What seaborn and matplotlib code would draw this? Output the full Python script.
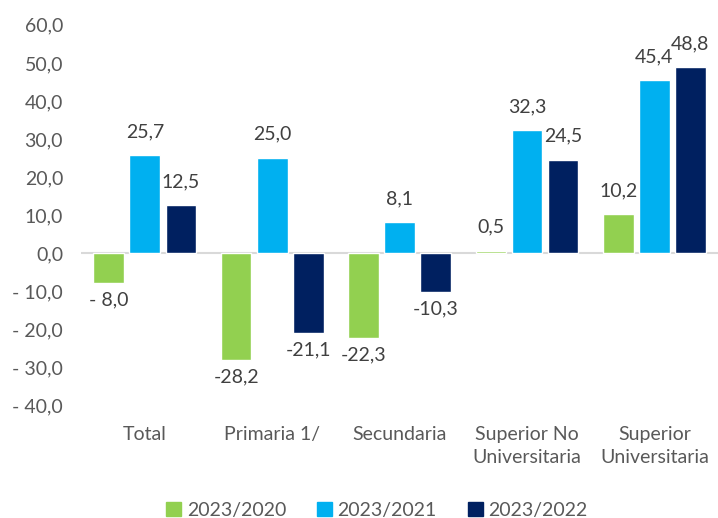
import pandas as pd
import matplotlib
matplotlib.use("Agg")
import matplotlib.pyplot as plt
import seaborn as sns

# --- Datos ---
niveles = ["Total", "Primaria 1/", "Secundaria", "Superior No\nUniversitaria", "Superior\nUniversitaria"]
periodos = ["2023/2020", "2023/2021", "2023/2022"]
var_2020 = [-8.0, -28.2, -22.3, 0.5, 10.2]
var_2021 = [25.7, 25.0, 8.1, 32.3, 45.4]
var_2022 = [12.5, -21.1, -10.3, 24.5, 48.8]
colores = ["#92D050", "#00B0F0", "#002060"]
ticks_y = [-40, -30, -20, -10, 0, 10, 20, 30, 40, 50, 60]

df = pd.DataFrame({
    "nivel": niveles * 3,
    "periodo": [p for p in periodos for _ in niveles],
    "valor": var_2020 + var_2021 + var_2022,
})

sns.set_style("white")
plt.rcParams["font.family"] = ["Lato", "DejaVu Sans"]

gris_eje = "#595959"
gris_txt = "#404040"
fs = 14

fig = plt.figure(figsize=(7.18, 5.18), dpi=100)
ax = fig.add_axes([0.113, 0.218, 0.887, 0.734])

sns.barplot(data=df, x="nivel", y="valor", hue="periodo", order=niveles,
            hue_order=periodos, palette=colores, width=0.85, gap=0.15,
            saturation=1, ax=ax, legend=False)

ax.set_ylim(-40, 60)
ax.set_xlim(-0.5, len(niveles) - 0.5)
ax.set_yticks(ticks_y)
ax.set_yticklabels([f"- {abs(t):.1f}".replace(".", ",") if t < 0 else f"{t:.1f}".replace(".", ",")
                    for t in ticks_y])
ax.axhline(0, color="#D9D9D9", lw=1.5, zorder=0)
sns.despine(ax=ax, left=True, bottom=True)
ax.tick_params(axis="y", length=0, pad=13, labelsize=fs, labelcolor=gris_eje)
ax.tick_params(axis="x", length=0, pad=15, labelsize=fs, labelcolor=gris_eje)
for t in ax.get_xticklabels():
    t.set_linespacing(1.45)
ax.set_xlabel("")
ax.set_ylabel("")

def etiqueta(v):
    if v < 0:
        return f"-{abs(v):4.1f}".replace(".", ",")
    return f"{v:.1f}".replace(".", ",")

for cont in ax.containers:
    for barra in cont:
        v = barra.get_height()
        x = barra.get_x() + barra.get_width() / 2
        if v >= 0:
            ax.annotate(etiqueta(v), (x, v), xytext=(0, 11), textcoords="offset points",
                        ha="center", va="bottom", fontsize=fs, color=gris_txt)
        else:
            ax.annotate(etiqueta(v), (x, v), xytext=(0, -6), textcoords="offset points",
                        ha="center", va="top", fontsize=fs, color=gris_txt)

handles = [plt.Rectangle((0, 0), 1, 1, color=c) for c in colores]
fig.legend(handles, periodos, loc="lower center", bbox_to_anchor=(0.525, -0.035), ncol=3,
           frameon=False, fontsize=fs, labelcolor=gris_eje, handlelength=0.75,
           handleheight=0.75, handletextpad=0.3, columnspacing=1.6)

fig.savefig("out.png", dpi=100)
